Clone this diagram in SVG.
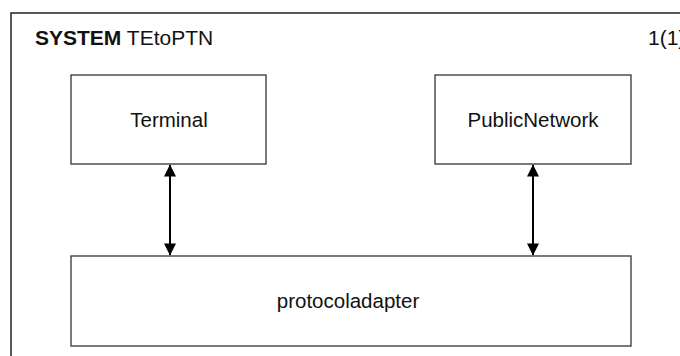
<svg xmlns="http://www.w3.org/2000/svg" width="680" height="356" viewBox="0 0 680 356">
<defs>
<style>
text{font-family:"Liberation Sans",Arial,sans-serif;fill:#111}
.lbl{font-size:20.5px;text-anchor:middle}
.box{fill:#fff;stroke:#333;stroke-width:1.3}
.con{stroke:#000;stroke-width:2;fill:none}
</style>
<marker id="ah" viewBox="0 0 13 12" markerWidth="13" markerHeight="12" refX="12" refY="6" orient="auto-start-reverse" markerUnits="userSpaceOnUse">
<path d="M0,0 L12,6 L0,12 Z" fill="#000" transform="translate(0.5,0)"/>
</marker>
</defs>
<rect width="680" height="356" fill="#fff"/>
<g id="frame">
<rect x="11" y="13" width="720" height="400" fill="none" stroke="#222" stroke-width="1.5"/>
<text x="35" y="45" font-size="21"><tspan font-weight="bold">SYSTEM</tspan> TEtoPTN</text>
<text x="648" y="45" font-size="21">1(1)</text>
</g>
<g id="Terminal">
<rect class="box" x="71" y="75" width="195" height="89"/>
<text class="lbl" x="169" y="127">Terminal</text>
</g>
<g id="PublicNetwork">
<rect class="box" x="435" y="75" width="196" height="89"/>
<text class="lbl" x="533" y="127">PublicNetwork</text>
</g>
<g id="protocoladapter">
<rect class="box" x="71" y="256" width="560" height="90"/>
<text class="lbl" x="348" y="308">protocoladapter</text>
</g>
<g id="connectors">
<line class="con" x1="170" y1="165" x2="170" y2="255" marker-start="url(#ah)" marker-end="url(#ah)"/>
<line class="con" x1="533" y1="165" x2="533" y2="255" marker-start="url(#ah)" marker-end="url(#ah)"/>
</g>
</svg>
